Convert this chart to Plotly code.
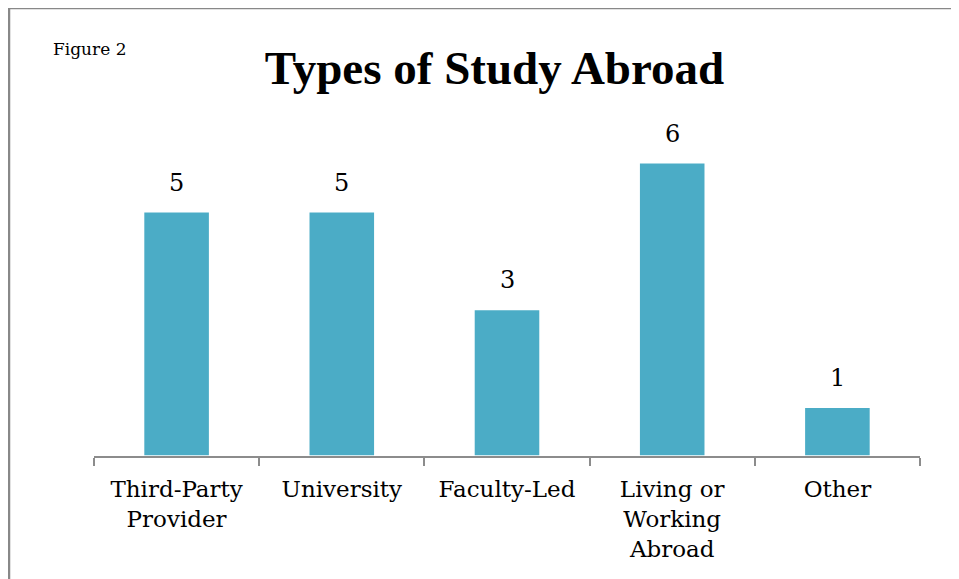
"""Bar chart: Types of Study Abroad (Figure 2)."""

import plotly.graph_objects as go

categories = ["Third-Party<br>Provider", "University", "Faculty-Led", "Living or<br>Working<br>Abroad", "Other"]
counts = [5, 5, 3, 6, 1]

BAR_COLOR = "#4BACC6"
AXIS_COLOR = "#8C8C8C"
BODY_FONT = "DejaVu Serif"
TITLE_FONT = "Liberation Serif"

# plot-area geometry in figure pixels (page has an 8px body margin)
W, H = 951, 571
L, R, T, B = 86, 39, 106, 123
PW, PH = W - L - R, H - T - B

fig = go.Figure()
fig.add_trace(
    go.Bar(
        x=categories,
        y=counts,
        width=0.4,
        marker={"color": BAR_COLOR, "line": {"color": "#FFFFFF", "width": 1.5}},
        hoverinfo="skip",
        showlegend=False,
    )
)

# value labels above bars
for cat, val in zip(categories, counts):
    fig.add_annotation(
        x=cat,
        y=val,
        text=str(val),
        showarrow=False,
        yanchor="bottom",
        yshift=13,
        font={"family": BODY_FONT, "size": 24, "color": "#000000"},
    )

fig.update_layout(
    width=W,
    height=H,
    margin={"l": L, "r": R, "t": T, "b": B},
    paper_bgcolor="#FFFFFF",
    plot_bgcolor="#FFFFFF",
    font={"family": BODY_FONT, "color": "#000000"},
    title={
        "text": "<b>Types of Study Abroad</b>",
        "x": 486.5 / W,
        "xanchor": "center",
        "xref": "container",
        "y": 1 - 76 / H,
        "yanchor": "bottom",
        "yref": "container",
        "font": {"family": TITLE_FONT, "size": 47, "color": "#000000"},
        "pad": {"b": 0},
    },
)
fig.update_xaxes(
    showline=True,
    linecolor=AXIS_COLOR,
    linewidth=1.5,
    ticks="outside",
    tickson="boundaries",
    ticklen=8,
    tickcolor=AXIS_COLOR,
    tickwidth=1.5,
    ticklabelstandoff=12,
    tickfont={"family": BODY_FONT, "size": 23, "color": "#000000"},
    showgrid=False,
)
fig.update_yaxes(range=[0, 7], visible=False, showgrid=False)

# "Figure 2" caption
fig.add_annotation(
    text="Figure 2",
    xref="paper",
    yref="paper",
    x=(43 - L) / PW,
    y=(T + PH - 29) / PH,
    xanchor="left",
    yanchor="top",
    showarrow=False,
    font={"family": BODY_FONT, "size": 17, "color": "#000000"},
)

# outer chart-area frame: only the top and left edges show in the crop
frame_left = (1 - L) / PW
frame_top = (T + PH) / PH
for x0, y0, x1, y1 in [
    (frame_left, frame_top, (W - L) / PW, frame_top),
    (frame_left, frame_top, frame_left, (T + PH - H) / PH),
]:
    fig.add_shape(
        type="line",
        xref="paper",
        yref="paper",
        x0=x0,
        y0=y0,
        x1=x1,
        y1=y1,
        line={"color": "#888888", "width": 2.5},
        layer="below",
    )

fig.write_html("out.html")
